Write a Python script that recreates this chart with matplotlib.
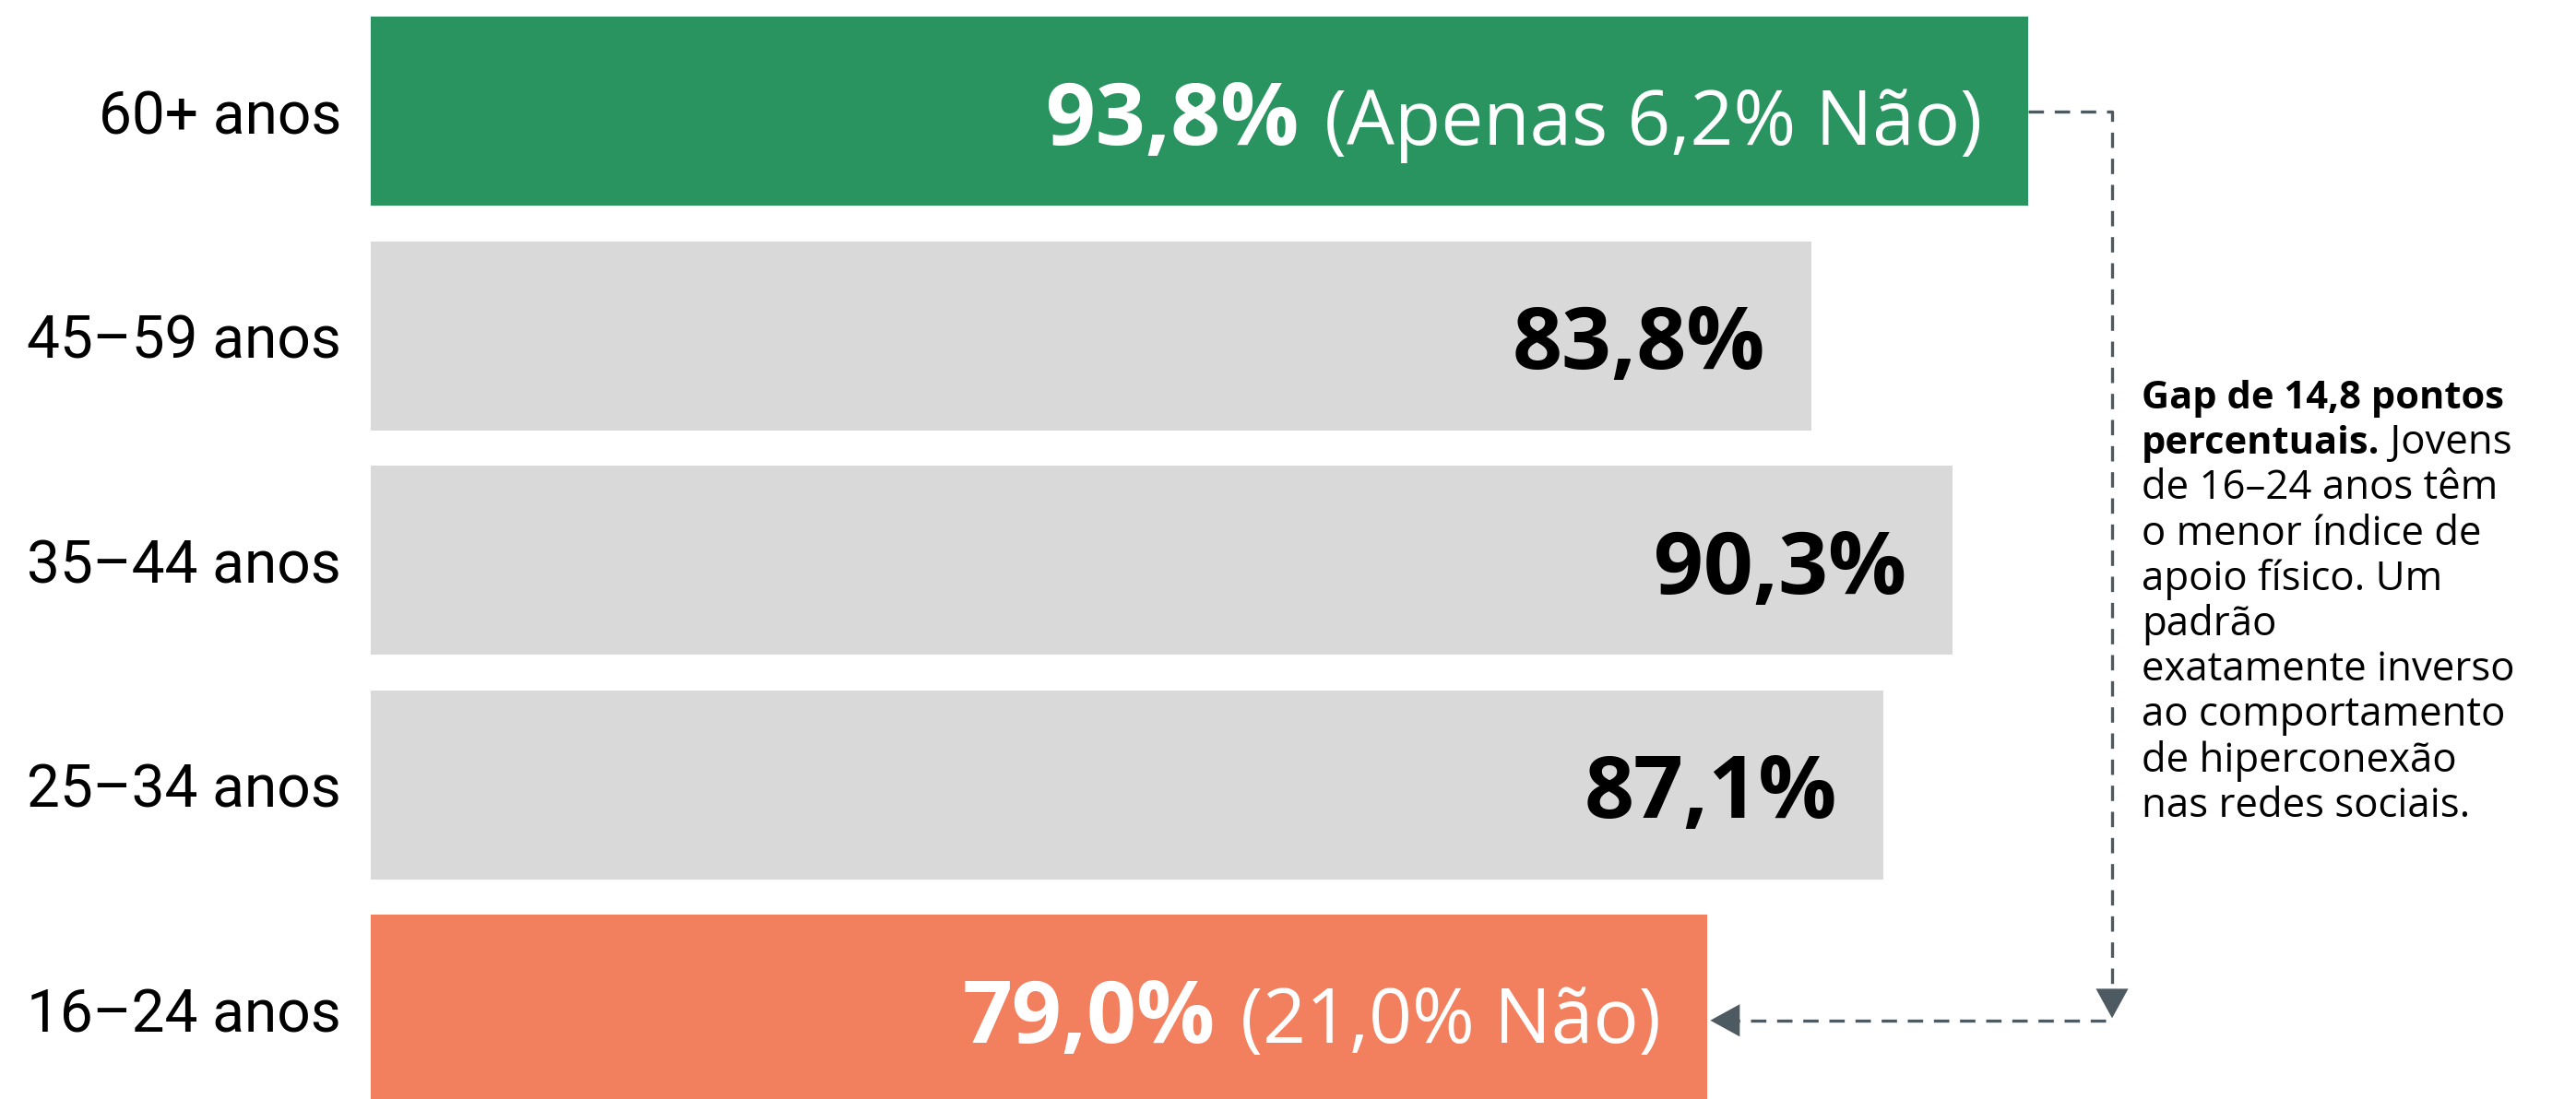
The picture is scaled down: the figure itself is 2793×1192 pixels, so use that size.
import matplotlib
matplotlib.use('Agg')
import matplotlib.pyplot as plt

# dados (ordem de baixo para cima)
grupos = ['16–24 anos', '25–34 anos', '35–44 anos', '45–59 anos', '60+ anos']
valores = [79.0, 87.1, 90.3, 83.8, 93.8]
extras = ['(21,0% Não)', '', '', '', '(Apenas 6,2% Não)']
cores = ['#f2805e', '#d9d9d9', '#d9d9d9', '#d9d9d9', '#2a9461']
cor_texto = ['white', 'black', 'black', 'black', 'white']

nota_bold = ['Gap de 14,8 pontos', 'percentuais.']
nota_linhas = ['de 16–24 anos têm', 'o menor índice de', 'apoio físico. Um', 'padrão',
               'exatamente inverso', 'ao comportamento', 'de hiperconexão', 'nas redes sociais.']

W, H = 2793, 1192
X0 = 17.3          # inicio do eixo x
PX_UNIT = 23.49    # pixels por ponto percentual
ESQ = 402
FONTE = 'Open Sans'
COR_SETA = '#4d5a62'

fig = plt.figure(figsize=(W / 100, H / 100), dpi=100)
ax = fig.add_axes([ESQ / W, 0, 1 - ESQ / W, 1])
ax.set_xlim(X0, X0 + (W - ESQ) / PX_UNIT)
ax.set_ylim(-0.400, 4.495)

ys = list(range(len(grupos)))
ax.barh(ys, valores, height=0.842, color=cores)

ax.set_yticks(ys)
ax.set_yticklabels(grupos, fontsize=46, family='Roboto')
ax.tick_params(axis='y', length=0, pad=23)
ax.set_xticks([])
for s in ax.spines.values():
    s.set_visible(False)

def fmt(v):
    return f'{v:.1f}%'.replace('.', ',')

for y, v, ex, c in zip(ys, valores, extras, cor_texto):
    if ex:
        t = ax.annotate(ex, xy=(v, y), xytext=(-36, -26), textcoords='offset points',
                        ha='right', va='baseline', fontsize=59, color=c, family=FONTE)
        ax.annotate(fmt(v), xy=(0, y), xycoords=(t, 'data'), xytext=(-20, -26),
                    textcoords='offset points', ha='right', va='baseline',
                    fontsize=68, fontweight='bold', color=c, family=FONTE)
    else:
        ax.annotate(fmt(v), xy=(v, y), xytext=(-36, -26), textcoords='offset points',
                    ha='right', va='baseline', fontsize=68, fontweight='bold', color=c,
                    family=FONTE)

# conector tracejado entre 60+ e 16-24
xv = X0 + (2290 - ESQ) / PX_UNIT
y_baixo = -0.05
ax.plot([valores[4], xv, xv], [4, 4, y_baixo + 0.12], color=COR_SETA, lw=2.4,
        linestyle=(0, (5, 3.5)))
ax.plot([xv - 0.3, valores[0] + 1.4], [y_baixo, y_baixo], color=COR_SETA, lw=2.4,
        linestyle=(0, (5, 3.5)))
seta = dict(arrowstyle='-|>,head_length=1.0,head_width=0.55', mutation_scale=23,
            color=COR_SETA, lw=0, shrinkA=0, shrinkB=0)
ax.annotate('', xy=(xv, y_baixo + 0.01), xytext=(xv, y_baixo + 0.3), arrowprops=seta)
ax.annotate('', xy=(valores[0] + 0.13, y_baixo), xytext=(valores[0] + 2.0, y_baixo),
            arrowprops=seta)

# nota lateral
xn = 2322 / W
base0, passo = 443, 49.2
fig.text(xn, 1 - base0 / H, nota_bold[0], fontsize=30, fontweight='bold',
         family=FONTE, va='baseline')
t2 = fig.text(xn, 1 - (base0 + passo) / H, nota_bold[1], fontsize=30,
              fontweight='bold', family=FONTE, va='baseline')
ax.annotate(' Jovens', xy=(1, 1 - (base0 + passo) / H), xycoords=(t2, 'figure fraction'),
            fontsize=31.5, family=FONTE, va='baseline', annotation_clip=False)
for i, linha in enumerate(nota_linhas):
    fig.text(xn, 1 - (base0 + passo * (i + 2)) / H, linha, fontsize=31.5,
             family=FONTE, va='baseline')

plt.savefig('out.png', dpi=100, facecolor='white')
